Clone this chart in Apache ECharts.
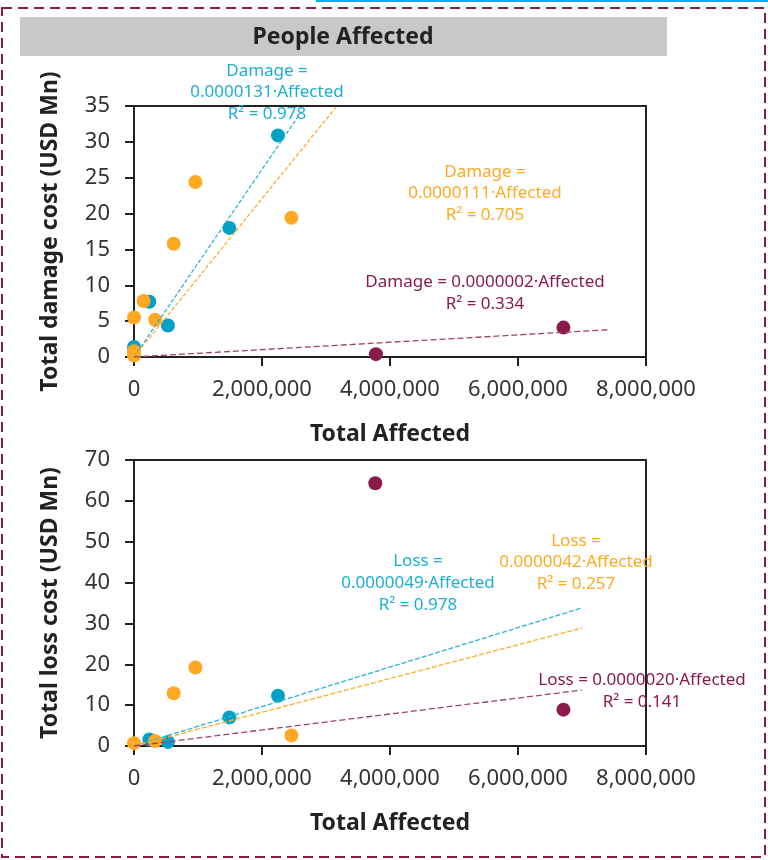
<!DOCTYPE html>
<html>
<head>
<meta charset="utf-8">
<script src="https://cdn.jsdelivr.net/npm/echarts@6/dist/echarts.min.js"></script>
<style>
  html, body { margin: 0; padding: 0; background: #fff; }
  #chart { width: 768px; height: 860px; }
</style>
</head>
<body>
<div id="chart"></div>
<script>
// x ticks (people affected)
const xTicks = [0, 2000000, 4000000, 6000000, 8000000];

// damage chart points [affected, USD Mn]
const damageBlue = [[2250000, 30.9], [1490000, 18.0], [240000, 7.7], [530000, 4.4], [0, 1.4]];
const damageOrange = [[960000, 24.4], [2460000, 19.4], [620000, 15.8], [150000, 7.8], [0, 5.5], [330000, 5.2], [0, 0.8], [0, 0.2]];
const damageMaroon = [[3780000, 0.4], [6710000, 4.1]];
// damage trend lines
const damageTrendBlue = [[0, 0], [2600000, 34.0]];
const damageTrendOrange = [[0, 0], [3170000, 35.0]];
const damageTrendMaroon = [[0, 0], [7400000, 3.8]];

// loss chart points
const lossBlue = [[2250000, 12.3], [1490000, 7.0], [240000, 1.6], [530000, 1.0]];
const lossOrange = [[960000, 19.2], [620000, 12.9], [2460000, 2.6], [0, 0.7], [330000, 1.2]];
const lossMaroon = [[3770000, 64.3], [6710000, 8.9]];
// loss trend lines
const lossTrendBlue = [[0, 0], [7000000, 33.8]];
const lossTrendOrange = [[0, 0], [7000000, 28.9]];
const lossTrendMaroon = [[0, 0], [7000000, 13.7]];

// equation labels
const damageEqBlue = ['Damage =', '0.0000131·Affected', 'R² = 0.978'];
const damageEqOrange = ['Damage =', '0.0000111·Affected', 'R² = 0.705'];
const damageEqMaroon = ['Damage = 0.0000002·Affected', 'R² = 0.334'];
const lossEqBlue = ['Loss =', '0.0000049·Affected', 'R² = 0.978'];
const lossEqOrange = ['Loss =', '0.0000042·Affected', 'R² = 0.257'];
const lossEqMaroon = ['Loss = 0.0000020·Affected', 'R² = 0.141'];

const BLUE = '#00a1c4';
const BLUE_TXT = '#1bafd6';
const ORANGE = '#ffa922';
const MAROON = '#8a1a4b';
const FONT = 'Noto Sans';

const chart = echarts.init(document.getElementById('chart'));

function xAxisCfg(gridIndex) {
  return {
    type: 'value',
    gridIndex: gridIndex,
    min: xTicks[0],
    max: xTicks[xTicks.length - 1],
    interval: xTicks[1] - xTicks[0],
    name: 'Total Affected',
    nameLocation: 'middle',
    nameGap: 66,
    nameTextStyle: { color: '#222', fontSize: 23, fontWeight: 'bold', fontFamily: FONT },
    axisLine: { show: true, lineStyle: { color: '#222', width: 2 } },
    axisTick: { show: true, length: 9, lineStyle: { color: '#222', width: 2 } },
    splitLine: { show: false },
    axisLabel: {
      color: '#333', fontSize: 22, fontFamily: FONT, margin: 22,
      formatter: v => v.toLocaleString('en-US')
    }
  };
}

function yAxisCfg(gridIndex, name, max, interval) {
  return {
    type: 'value',
    gridIndex: gridIndex,
    min: 0,
    max: max,
    interval: interval,
    name: name,
    nameLocation: 'middle',
    nameRotate: 90,
    nameGap: 72,
    nameTextStyle: { color: '#222', fontSize: 23, fontWeight: 'bold', fontFamily: FONT },
    axisLine: { show: true, lineStyle: { color: '#222', width: 2 } },
    axisTick: { show: true, length: 9, lineStyle: { color: '#222', width: 2 } },
    splitLine: { show: false },
    axisLabel: { color: '#333', fontSize: 22, fontFamily: FONT, margin: 24 }
  };
}

function dots(name, data, color, idx) {
  return {
    name: name, type: 'scatter', xAxisIndex: idx, yAxisIndex: idx,
    data: data, symbolSize: 14, itemStyle: { color: color, opacity: 1 },
    z: 3
  };
}

function trend(data, color, idx, dash) {
  return {
    type: 'line', xAxisIndex: idx, yAxisIndex: idx, data: data,
    showSymbol: false, symbol: 'none', silent: true,
    lineStyle: { color: color, width: 1.3, type: dash },
    z: 4
  };
}

function eq(lines, cx, y0, color, step) {
  return lines.map((t, i) => ({
    type: 'text',
    x: cx, y: y0 + i * step,
    style: {
      text: t, fill: color, font: '17px "' + FONT + '"',
      textAlign: 'center', textVerticalAlign: 'middle'
    },
    z: 10
  }));
}

const option = {
  animation: false,
  grid: [
    { left: 134, top: 106, width: 512, height: 251, show: true, borderColor: '#222', borderWidth: 2, backgroundColor: 'transparent' },
    { left: 134, top: 460, width: 512, height: 286, show: true, borderColor: '#222', borderWidth: 2, backgroundColor: 'transparent' }
  ],
  xAxis: [xAxisCfg(0), xAxisCfg(1)],
  yAxis: [
    yAxisCfg(0, 'Total damage cost (USD Mn)', 35, 5),
    yAxisCfg(1, 'Total loss cost (USD Mn)', 70, 10)
  ],
  series: [
    dots('Damage blue', damageBlue, BLUE, 0),
    dots('Damage orange', damageOrange, ORANGE, 0),
    dots('Damage maroon', damageMaroon, MAROON, 0),
    trend(damageTrendBlue, '#2db4d6', 0, [4, 2]),
    trend(damageTrendOrange, '#ffac2a', 0, [4, 2]),
    trend(damageTrendMaroon, '#9c4468', 0, [6, 3]),
    dots('Loss blue', lossBlue, BLUE, 1),
    dots('Loss orange', lossOrange, ORANGE, 1),
    dots('Loss maroon', lossMaroon, MAROON, 1),
    trend(lossTrendBlue, '#2db4d6', 1, [5, 2]),
    trend(lossTrendOrange, '#ffac2a', 1, [5, 2]),
    trend(lossTrendMaroon, '#9c4468', 1, [6, 3])
  ],
  graphic: [
    // outer dashed frame
    {
      type: 'rect', shape: { x: 2, y: 8, width: 763, height: 849 },
      style: { fill: 'none', stroke: MAROON, lineWidth: 2, lineDash: [10, 6] }, z: 1
    },
    // blue line of the next panel
    {
      type: 'line', shape: { x1: 316, y1: 1, x2: 768, y2: 1 },
      style: { stroke: '#00b0f0', lineWidth: 2 }, z: 1
    },
    // header bar
    {
      type: 'rect', shape: { x: 20, y: 17, width: 647, height: 39 },
      style: { fill: '#c8c8c8' }, z: 1
    },
    {
      type: 'text', x: 343, y: 37,
      style: {
        text: 'People Affected', fill: '#222', font: 'bold 23px "' + FONT + '"',
        textAlign: 'center', textVerticalAlign: 'middle'
      }, z: 2
    },
    ...eq(damageEqBlue, 267, 71, BLUE_TXT, 21.5),
    ...eq(damageEqOrange, 485, 172, ORANGE, 21.5),
    ...eq(damageEqMaroon, 485, 282, MAROON, 22),
    ...eq(lossEqBlue, 418, 561, BLUE_TXT, 22),
    ...eq(lossEqOrange, 576, 541, ORANGE, 21.5),
    ...eq(lossEqMaroon, 642, 680, MAROON, 22)
  ]
};

chart.setOption(option);
</script>
</body>
</html>
